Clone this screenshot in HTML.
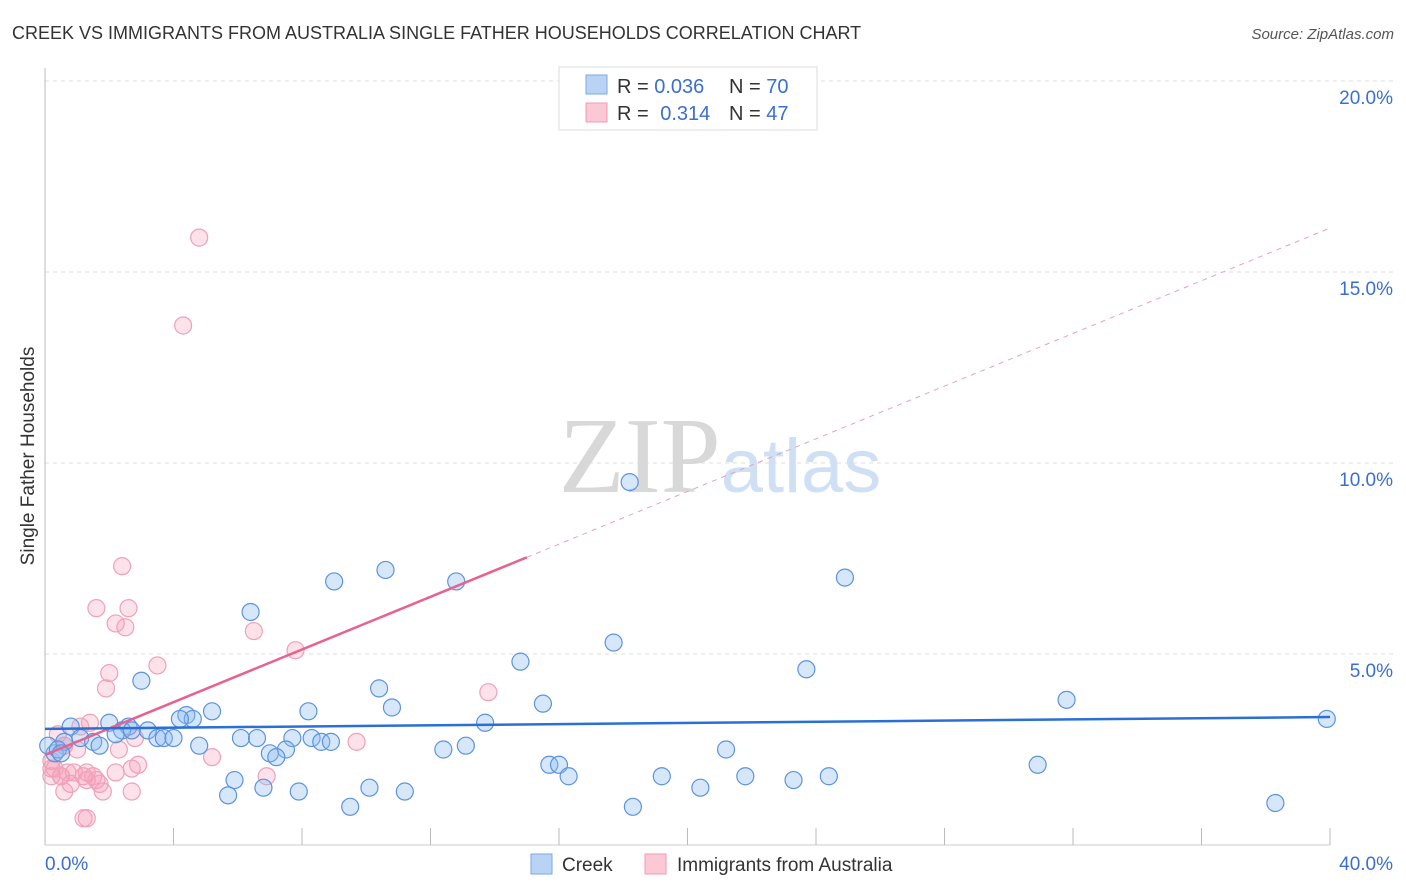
<!DOCTYPE html>
<html><head><meta charset="utf-8"><style>
body{margin:0;background:#fff;font-family:"Liberation Sans",sans-serif;}
svg{display:block}
</style></head><body>
<svg id="chart" width="1406" height="892" viewBox="0 0 1406 892" xmlns="http://www.w3.org/2000/svg">
<text x="12" y="39" font-size="18" fill="#333">CREEK VS IMMIGRANTS FROM AUSTRALIA SINGLE FATHER HOUSEHOLDS CORRELATION CHART</text>
<text x="1394" y="39" font-size="15" fill="#555" text-anchor="end" font-style="italic">Source: ZipAtlas.com</text>
<text transform="translate(34,456) rotate(-90)" font-size="19" fill="#333" text-anchor="middle">Single Father Households</text>
<g id="grid"></g>
<text x="720" y="492" font-size="108" text-anchor="middle" fill="#ddd" font-family="Liberation Serif"><tspan fill="#d8d8d8">ZIP</tspan><tspan fill="#cfe0f5" font-family="Liberation Sans" font-size="76">atlas</tspan></text>
<g id="points"></g>
<g id="trends"></g>
<g>
<rect x="559" y="67" width="258" height="63" fill="#fff" stroke="#ddd"/>
<rect x="586" y="75" width="21" height="19" fill="#b9d3f5" stroke="#7aa8e8"/>
<rect x="586" y="103" width="21" height="19" fill="#fbc9d6" stroke="#f19ab2"/>
<text x="617" y="93" font-size="20" fill="#333">R = <tspan fill="#3a6fd0">0.036</tspan></text>
<text x="729" y="93" font-size="20" fill="#333">N = <tspan fill="#3a6fd0">70</tspan></text>
<text x="617" y="120" font-size="20" fill="#333">R = <tspan fill="#3a6fd0" dx="6">0.314</tspan></text>
<text x="729" y="120" font-size="20" fill="#333">N = <tspan fill="#3a6fd0">47</tspan></text>
</g>
<g>
<rect x="531" y="854" width="21" height="20" fill="#b9d3f5" stroke="#7aa8e8"/>
<text x="562" y="871" font-size="19" fill="#333">Creek</text>
<rect x="645" y="854" width="21" height="20" fill="#fbc9d6" stroke="#f19ab2"/>
<text x="677" y="871" font-size="19" fill="#333">Immigrants from Australia</text>
</g>
</svg>
<script>
const xTicks=[0,40];
const xTickLabels=["0.0%","40.0%"];
const yTicks=[5,10,15,20];
const yTickLabels=["5.0%","10.0%","15.0%","20.0%"];
const creekX=[18.2,24.9,10.6,12.8,9.0,6.4,17.7,14.8,23.7,3.0,10.4,31.8,15.5,10.8,5.2,8.2,4.4,4.6,4.2,13.7,39.9,0.8,2.0,2.6,2.4,3.2,0.6,1.1,1.5,1.7,2.2,3.5,3.7,4.0,6.1,6.6,7.7,8.3,8.6,8.9,4.8,7.5,7.0,7.2,12.4,13.1,21.2,0.3,15.7,16.0,16.3,30.9,5.9,6.8,10.1,19.2,21.8,23.3,24.4,20.4,5.7,7.9,11.2,9.5,18.3,38.3,0.1,0.4,0.5,2.7];
const creekY=[9.5,7.0,7.2,6.9,6.9,6.1,5.3,4.8,4.6,4.3,4.1,3.8,3.7,3.6,3.5,3.5,3.4,3.3,3.3,3.2,3.3,3.1,3.2,3.1,3.0,3.0,2.7,2.8,2.7,2.6,2.9,2.8,2.8,2.8,2.8,2.8,2.8,2.8,2.7,2.7,2.6,2.5,2.4,2.3,2.5,2.6,2.5,2.4,2.1,2.1,1.8,2.1,1.7,1.5,1.5,1.8,1.8,1.7,1.8,1.5,1.3,1.4,1.4,1.0,1.0,1.1,2.6,2.5,2.4,3.0];
const ausX=[4.8,4.3,2.4,1.6,2.6,2.2,2.5,6.5,7.8,3.5,2.0,1.9,13.8,1.4,1.1,9.7,2.8,0.4,2.3,1.0,0.6,5.2,0.2,0.3,0.5,0.7,0.9,1.2,1.6,2.9,2.7,2.2,0.8,0.5,0.2,6.9,1.3,1.7,1.8,2.7,0.6,1.3,1.2,1.3,0.6,0.2,1.5];
const ausY=[15.9,13.6,7.3,6.2,6.2,5.8,5.7,5.6,5.1,4.7,4.5,4.1,4.0,3.2,3.1,2.7,2.8,2.9,2.5,2.5,2.6,2.3,2.2,2.0,1.8,1.9,1.9,1.8,1.7,2.1,2.0,1.9,1.6,1.8,1.8,1.8,1.9,1.6,1.4,1.4,1.4,1.7,0.7,0.7,2.6,2.0,1.8];
const creekTrend=[3.04,3.35];
const ausTrend=[2.36,16.15];
const ausSolidEnd=15.0;
const NS="http://www.w3.org/2000/svg";
const X=v=>45+v/40*1285, Y=v=>845-v/5*191;
function mk(t,a,p){const e=document.createElementNS(NS,t);for(const k in a)e.setAttribute(k,a[k]);p.appendChild(e);return e;}
const grid=document.getElementById('grid');
yTicks.forEach((t,i)=>{
 const l=mk('line',{x1:45,x2:1394,y1:Y(t),y2:Y(t),stroke:'#ddd','stroke-dasharray':'4,4'},grid);
 
 
 const tx=mk('text',{x:1393,y:Y(t)+23,'font-size':19,fill:'#3a6fd0','text-anchor':'end'},grid);
 tx.textContent=yTickLabels[i];
 
 
});
const ax=mk('line',{x1:45,x2:45,y1:68,y2:845,stroke:'#bbb'},grid);


const bx=mk('line',{x1:45,x2:1330,y1:845,y2:845,stroke:'#ccc'},grid);


for(let i=1;i<=10;i++){const t=mk('line',{x1:X(i*4),x2:X(i*4),y1:828,y2:845,stroke:'#bbb'},grid);
 
 }
xTicks.forEach((t,i)=>{const tx=mk('text',{x:X(t)+(i==0?0:63),y:870,'font-size':19,fill:'#3a6fd0','text-anchor':i==0?'start':'end'},grid);
 tx.textContent=xTickLabels[i];
 
 });
const pts=document.getElementById('points');
ausX.forEach((v,i)=>{const c=mk('circle',{cx:X(v),cy:Y(ausY[i]),r:8.5,fill:'rgba(247,160,185,0.3)',stroke:'#f0a0b8','stroke-width':1.2},pts);
 
 });
creekX.forEach((v,i)=>{const c=mk('circle',{cx:X(v),cy:Y(creekY[i]),r:8.5,fill:'rgba(140,185,240,0.35)',stroke:'#5b93e0','stroke-width':1.2},pts);
 
 });
const tr=document.getElementById('trends');
const a=mk('line',{x1:X(ausSolidEnd),y1:Y(ausTrend[0]+(ausTrend[1]-ausTrend[0])*ausSolidEnd/40),x2:X(40),y2:Y(ausTrend[1]),stroke:'#eaa0b8','stroke-dasharray':'5,5'},tr);


const b=mk('line',{x1:X(0),y1:Y(ausTrend[0]),x2:X(ausSolidEnd),y2:Y(ausTrend[0]+(ausTrend[1]-ausTrend[0])*ausSolidEnd/40),stroke:'#e8628e','stroke-width':2.5},tr);


const c=mk('line',{x1:X(0),y1:Y(creekTrend[0]),x2:X(40),y2:Y(creekTrend[1]),stroke:'#2a6fd6','stroke-width':2.5},tr);


</script>
</body></html>
